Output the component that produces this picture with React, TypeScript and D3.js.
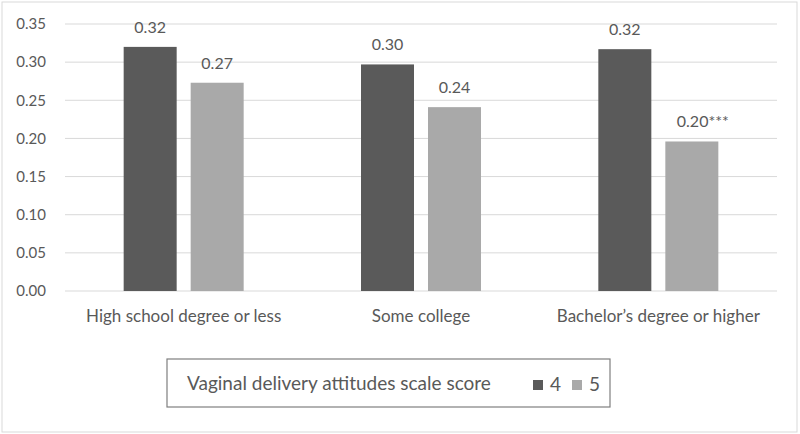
import React from "react";
import * as d3 from "d3";

const categories = ["High school degree or less", "Some college", "Bachelor\u2019s degree or higher"];
const seriesNames = ["4", "5"];
const series4 = [0.32, 0.297, 0.317];
const series5 = [0.273, 0.241, 0.196];
const labels4 = ["0.32", "0.30", "0.32"];
const labels5 = ["0.27", "0.24", "0.20***"];
const yTicks = [0, 0.05, 0.1, 0.15, 0.2, 0.25, 0.3, 0.35];
const colors = ["#5a5a5a", "#a9a9a9"];

const W = 800;
const H = 434;
const FONT = "Lato, 'Open Sans', sans-serif";
const TXT = "#595959";

export default function App() {
  const plotL = 65, plotR = 777, plotT = 24, plotB = 291;
  const x0 = d3.scaleBand<string>().domain(categories).range([plotL, plotR]).paddingInner(0).paddingOuter(0);
  const y = d3.scaleLinear().domain([0, 0.35]).range([plotB, plotT]);
  const barW = 53;
  const gap = 14;
  const values = [series4, series5];
  const labels = [labels4, labels5];

  return (
    <svg width={W} height={H} style={{ position: "absolute", left: 0, top: 0 }} fontFamily={FONT}>
      <rect x={0} y={0} width={W} height={H} fill="#fff" />
      <rect x={2} y={2} width={795} height={430} fill="none" stroke="#d9d9d9" strokeWidth={1} />
      {yTicks.map((t) => (
        <g key={t}>
          <line x1={plotL} x2={plotR} y1={y(t)} y2={y(t)} stroke="#d9d9d9" strokeWidth={1} />
          <text x={46} y={y(t)} dy="0.35em" textAnchor="end" fontSize={15} fill={TXT}>
            {t.toFixed(2)}
          </text>
        </g>
      ))}
      {categories.map((c, i) => {
        const cx = (x0(c) as number) + x0.bandwidth() / 2;
        return (
          <g key={c}>
            {values.map((vals, s) => {
              const bx = cx - (barW * 2 + gap) / 2 + s * (barW + gap);
              return (
                <g key={s}>
                  <rect x={bx} y={y(vals[i])} width={barW} height={plotB - y(vals[i])} fill={colors[s]} />
                  <text
                    x={bx + barW / 2 + (labels[s][i].length > 4 ? 11 : 0)}
                    y={y(vals[i]) - 14}
                    textAnchor="middle"
                    fontSize={16}
                    fill={TXT}
                  >
                    {labels[s][i]}
                  </text>
                </g>
              );
            })}
            <text x={cx} y={316} dy="0.35em" textAnchor="middle" fontSize={17} fill={TXT}>
              {c}
            </text>
          </g>
        );
      })}
      <rect x={167} y={359} width={443} height={48} fill="#fff" stroke="#7f7f7f" strokeWidth={1.2} />
      <text x={187} y={383} dy="0.35em" fontSize={19} fill={TXT}>
        Vaginal delivery attitudes scale score
      </text>
      {seriesNames.map((n, s) => (
        <g key={n}>
          <rect x={533 + s * 39} y={380} width={10} height={10} fill={colors[s]} />
          <text x={550 + s * 39} y={384} dy="0.35em" fontSize={19} fill={TXT}>
            {n}
          </text>
        </g>
      ))}
    </svg>
  );
}
